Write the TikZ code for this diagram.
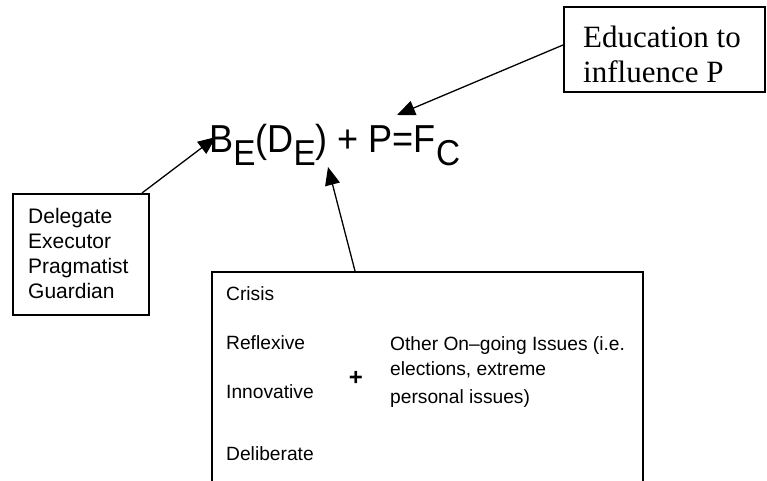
\documentclass[tikz,border=0pt]{standalone}
\usepackage{fontspec}
\setmainfont{Liberation Serif}
\setsansfont{Liberation Sans}
\usetikzlibrary{arrows.meta}
\begin{document}
\begin{tikzpicture}[x=1pt,y=-1pt,
  box/.style={draw, line width=1.5pt, inner sep=0pt, anchor=north west},
  lbl/.style={anchor=base west, inner sep=0pt, font=\sffamily\fontsize{19.2}{23}\selectfont},
  role/.style={anchor=base west, inner sep=0pt, font=\sffamily\fontsize{21}{25}\selectfont},
  edutxt/.style={anchor=base west, inner sep=0pt, font=\rmfamily\fontsize{31}{35}\selectfont},
  conn/.style={line width=1.3pt, -{Triangle[length=18pt,width=15pt]}}]
\useasboundingbox (0,0) rectangle (767,480);
% equation
\newcommand{\mysub}[1]{\raisebox{-13.5pt}{\fontsize{36}{36}\selectfont #1}}
\node[anchor=base west, inner sep=0pt, font=\sffamily\fontsize{39}{40}\selectfont] (eq) at (209,152)
  {\scalebox{0.925}[1]{B\mysub{E}(D\mysub{E}) + P=F\mysub{C}}};
% education box
\node[box, minimum width=201pt, minimum height=85pt] (edu) at (563,6) {};
\node[edutxt] (edu1) at (583,47) {Education to};
\node[edutxt] (edu2) at (583,82) {influence P};
% roles box
\node[box, minimum width=136pt, minimum height=121pt] (roles) at (12,193) {};
\node[role] (r1) at (28,223) {Delegate};
\node[role] (r2) at (28,248) {Executor};
\node[role] (r3) at (28,273) {Pragmatist};
\node[role] (r4) at (28,298) {Guardian};
% crisis box
\node[box, minimum width=431pt, minimum height=230pt] (cause) at (211,271) {};
\node[lbl] (c1) at (226,300) {Crisis};
\node[lbl] (c2) at (226,349) {Reflexive};
\node[lbl] (c3) at (226,398) {Innovative};
\node[lbl] (c4) at (226,460) {Deliberate};
\node[anchor=center, inner sep=0pt, font=\sffamily\bfseries\fontsize{24}{24}\selectfont] (plus) at (356,378) {+};
\node[lbl] (o1) at (390,350) {Other On–going Issues (i.e.};
\node[lbl] (o2) at (390,375) {elections, extreme};
\node[lbl] (o3) at (390,403) {personal issues)};
% connector ends
\coordinate (eduS) at (563,45);
\coordinate (ptip) at (397,115);
\coordinate (rolesS) at (142,193);
\coordinate (btip) at (216,137);
\coordinate (causeS) at (355,271);
\coordinate (dtip) at (328,167);
\draw[conn] (eduS) -- (ptip);
\draw[conn] (rolesS) -- (btip);
\draw[conn] (causeS) -- (dtip);
\end{tikzpicture}
\end{document}
